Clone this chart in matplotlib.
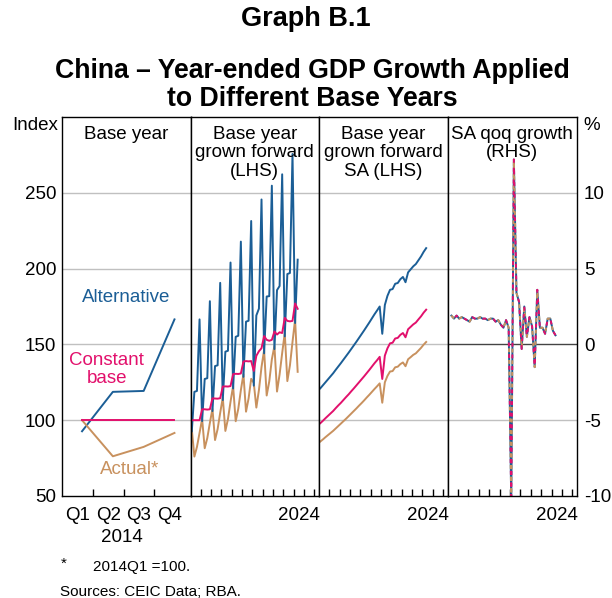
import numpy as np
import matplotlib
matplotlib.use("Agg")
import matplotlib.pyplot as plt

plt.rcParams['font.family'] = ['Liberation Sans', 'DejaVu Sans']
plt.rcParams['axes.unicode_minus'] = False

# Colours
BLUE = '#1b5e96'
PINK = '#e2106c'
BROWN = '#c8915e'
GRID = '#c0c0c0'

# ---- Panel 1: base year 2014, quarterly levels ----
base_quarters = ['Q1', 'Q2', 'Q3', 'Q4']
base_alt = [92.7, 118.7, 119.3, 166.5]
base_const = [100.0, 100.0, 100.0, 100.0]
base_actual = [100.0, 76.2, 82.4, 91.6]

# ---- Panel 2: base year grown forward (2014Q1 - 2024Q2) ----
fwd_alt = [92.7, 118.7, 119.3, 166.5,
           99.4, 127.2, 127.7, 178.5,
           106.0, 135.7, 136.2, 190.6,
           113.3, 145.2, 145.8, 204.0,
           120.9, 155.0, 155.7, 217.8,
           128.6, 165.0, 165.6, 231.4,
           122.8, 169.1, 173.6, 245.6,
           144.1, 181.6, 181.8, 254.7,
           146.9, 185.8, 188.5, 262.2,
           155.3, 196.4, 197.1, 275.6,
           164.1, 205.9]
fwd_const = [100.0, 100.0, 100.0, 100.0,
             107.2, 107.2, 107.0, 107.2,
             114.4, 114.3, 114.2, 114.5,
             122.2, 122.3, 122.2, 122.5,
             130.4, 130.6, 130.5, 130.8,
             138.7, 139.0, 138.8, 139.0,
             132.5, 142.5, 145.5, 147.5,
             155.5, 153.0, 152.4, 153.0,
             158.5, 156.5, 158.0, 157.5,
             167.5, 165.5, 165.2, 165.5,
             177.0, 173.5]
fwd_actual = [94.0, 76.0, 82.4, 91.6,
              100.8, 81.5, 88.2, 98.2,
              107.5, 86.9, 94.1, 104.9,
              114.9, 92.9, 100.7, 112.2,
              122.6, 99.3, 107.5, 119.8,
              130.4, 105.6, 114.4, 127.3,
              124.6, 108.3, 119.9, 135.1,
              146.2, 116.3, 125.6, 140.1,
              149.0, 118.9, 130.2, 144.3,
              157.5, 125.8, 136.1, 151.6,
              166.4, 131.9]

# ---- Panel 3: base year grown forward, seasonally adjusted ----
sa_alt = [121.0, 123.0, 125.0, 127.0, 129.0, 131.0, 133.3, 135.5,
          137.7, 140.0, 142.3, 144.6, 147.0, 149.4, 151.8, 154.3,
          156.8, 159.3, 161.9, 164.5, 167.2, 169.9, 172.4, 175.0,
          157.0, 176.0, 182.0, 186.0, 186.5, 190.0, 190.5, 193.0,
          194.5, 191.0, 197.5, 199.5, 201.5, 203.0, 205.5, 208.0,
          211.0, 213.5]
sa_const = [98.0, 99.6, 101.3, 102.9, 104.5, 106.1, 108.0, 109.8,
            111.5, 113.4, 115.3, 117.1, 119.1, 121.0, 123.0, 125.0,
            127.0, 129.0, 131.1, 133.2, 135.4, 137.6, 139.6, 141.8,
            127.2, 142.6, 147.4, 150.7, 151.1, 153.9, 154.3, 156.3,
            157.5, 154.7, 160.0, 161.6, 163.2, 164.4, 166.5, 168.5,
            170.9, 172.9]
sa_actual = [85.9, 87.3, 88.8, 90.2, 91.6, 93.0, 94.6, 96.2,
             97.8, 99.4, 101.0, 102.7, 104.4, 106.1, 107.8, 109.6,
             111.3, 113.1, 115.0, 116.8, 118.7, 120.6, 122.4, 124.3,
             111.5, 125.0, 129.2, 132.1, 132.4, 134.9, 135.3, 137.0,
             138.1, 135.6, 140.2, 141.6, 143.1, 144.1, 145.9, 147.7,
             149.8, 151.6]

# ---- Panel 4: SA qoq growth, % (2014Q2 - 2024Q2) ----
qoq_growth = [1.9, 1.7, 1.9,
              1.7, 1.8, 1.7, 1.6,
              1.5, 1.8, 1.7, 1.7,
              1.8, 1.7, 1.7, 1.6,
              1.7, 1.7, 1.5, 1.6,
              1.3, 1.1, 1.6, 1.1,
              -10.4, 12.2, 3.4, 2.8,
              -0.3, 2.5, 0.5, 1.8,
              1.2, -1.5, 3.6, 1.1,
              1.1, 0.7, 1.7, 1.7,
              0.9, 0.6]

left_ticks = [50, 100, 150, 200, 250]
right_ticks = [-10, -5, 0, 5, 10]

# quarterly dates as fractional years (mid-quarter)
t_fwd = 2014 + (np.arange(len(fwd_alt)) + 0.5) / 4
t_qoq = 2014.25 + (np.arange(len(qoq_growth)) + 0.5) / 4

W, H = 612, 598
fig = plt.figure(figsize=(W / 100, H / 100), dpi=100)

edges = [62, 190.5, 319, 447.5, 577]
top, bottom = 117, 496
axes = []
for i in range(4):
    ax = fig.add_axes([edges[i] / W, 1 - bottom / H,
                       (edges[i + 1] - edges[i]) / W, (bottom - top) / H])
    axes.append(ax)

FS = 13.5
LW = 1.4

for i, ax in enumerate(axes):
    for s in ax.spines.values():
        s.set_linewidth(1.0)
        s.set_color('black')
    if i < 3:
        ax.set_ylim(50, 300)
        ax.set_yticks(left_ticks)
        for v in left_ticks[1:]:
            ax.axhline(v, color=GRID, lw=1.0, zorder=0)
    else:
        ax.set_ylim(-10, 15)
        ax.set_yticks(right_ticks)
        for v in right_ticks[1:]:
            ax.axhline(v, color='#444444' if v == 0 else GRID,
                       lw=1.0, zorder=0)
    ax.tick_params(axis='y', length=0, labelsize=FS)
    if i == 0:
        ax.tick_params(axis='y', labelleft=True, labelright=False, pad=4)
    elif i == 3:
        ax.yaxis.tick_right()
        ax.tick_params(axis='y', labelright=True, labelleft=False, pad=5)
    else:
        ax.tick_params(axis='y', labelleft=False, labelright=False)

# panel 1
ax = axes[0]
xq = np.arange(4) + 0.65
ax.plot(xq, base_alt, color=BLUE, lw=LW)
ax.plot(xq, base_actual, color=BROWN, lw=LW)
ax.plot(xq, base_const, color=PINK, lw=LW)
ax.set_xlim(0, 4.17)
ax.set_xticks([0.5, 1.5, 2.5, 3.5])
ax.set_xticklabels(base_quarters)
ax.set_xticks([1, 2, 3], minor=True)
ax.tick_params(axis='x', which='major', length=0, labelsize=FS, pad=8)
ax.tick_params(axis='x', which='minor', direction='in', length=5, width=1)
ax.text(1.94, -0.11, '2014', transform=ax.get_xaxis_transform(),
        ha='center', va='center', fontsize=FS)
ax.text(2.07, 180.8, 'Alternative', color=BLUE, ha='center', va='center', fontsize=FS)
ax.text(1.45, 133.4, 'Constant\nbase', color=PINK, ha='center', va='center',
        fontsize=FS, linespacing=1.1)
ax.text(2.2, 67.6, 'Actual*', color=BROWN, ha='center', va='center', fontsize=FS)

# panel 2
ax = axes[1]
ax.plot(t_fwd, fwd_actual, color=BROWN, lw=LW)
ax.plot(t_fwd, fwd_alt, color=BLUE, lw=LW)
ax.plot(t_fwd, fwd_const, color=PINK, lw=LW)

# panel 3
ax = axes[2]
ax.plot(t_fwd, sa_alt, color=BLUE, lw=LW)
ax.plot(t_fwd, sa_const, color=PINK, lw=LW)
ax.plot(t_fwd, sa_actual, color=BROWN, lw=LW)

# panel 4
ax = axes[3]
ax.plot(t_qoq, qoq_growth, color=BLUE, lw=LW)
ax.plot(t_qoq, qoq_growth, color=BROWN, lw=LW, ls=(0, (2, 4)))
ax.plot(t_qoq, qoq_growth, color=PINK, lw=LW, ls=(3, (2, 4)))

for ax in axes[1:]:
    ax.set_xlim(2014.0, 2026.44)
    ax.set_xticks([2024.5])
    ax.set_xticklabels(['2024'])
    ax.set_xticks(np.arange(2015, 2027), minor=True)
    ax.tick_params(axis='x', which='major', length=0, labelsize=FS, pad=8)
    ax.tick_params(axis='x', which='minor', direction='in', length=5, width=1)

panel_titles = ['Base year', 'Base year\ngrown forward\n(LHS)',
                'Base year\ngrown forward\nSA (LHS)', 'SA qoq growth\n(RHS)']
for ax, title in zip(axes, panel_titles):
    ax.text(0.5, 0.977, title, transform=ax.transAxes, ha='center', va='top',
            fontsize=FS, linespacing=1.12)

# axis unit labels
fig.text(58 / W, 1 - 126 / H, 'Index', ha='right', va='center', fontsize=FS)
fig.text(583 / W, 1 - 126 / H, '%', ha='left', va='center', fontsize=FS)

# titles
fig.text(0.5, 1 - 19 / H, 'Graph B.1', ha='center', va='center',
         fontsize=19.5, fontweight='bold')
fig.text(0.51, 1 - 85 / H, 'China \u2013 Year-ended GDP Growth Applied\nto Different Base Years',
         ha='center', va='center', fontsize=19.2, fontweight='bold', linespacing=1.08)

# footnotes
fig.text(61 / W, 1 - 564 / H, '*', ha='left', va='center', fontsize=11)
fig.text(93 / W, 1 - 567 / H, '2014Q1 =100.', ha='left', va='center', fontsize=11)
fig.text(60 / W, 1 - 592 / H, 'Sources: CEIC Data; RBA.', ha='left', va='center', fontsize=11)

fig.savefig('out.png', dpi=100)
